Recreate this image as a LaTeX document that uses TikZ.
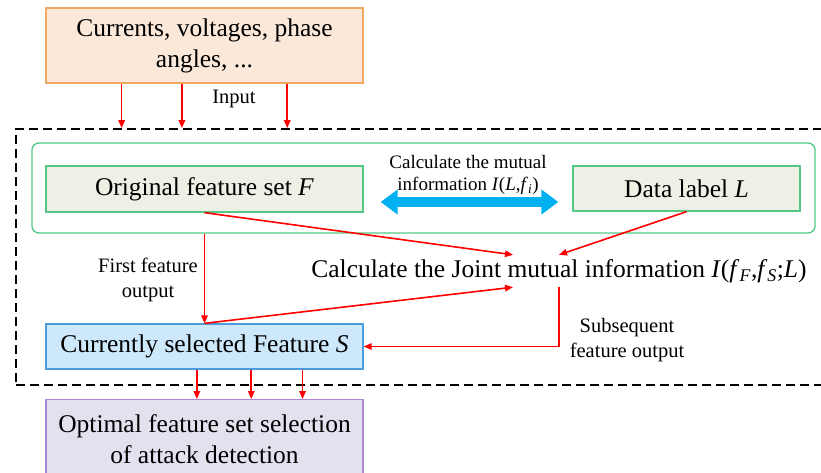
\documentclass[tikz,border=0pt]{standalone}
\usepackage{fontspec}
\setmainfont{Liberation Serif}
\usetikzlibrary{arrows.meta,calc}

\definecolor{srcfill}{HTML}{FBE8D9}
\definecolor{srcdraw}{HTML}{F0A862}
\definecolor{grndraw}{HTML}{55C785}
\definecolor{grnfill}{HTML}{ECF0E5}
\definecolor{selfill}{HTML}{CDE7FB}
\definecolor{seldraw}{HTML}{4C9BDD}
\definecolor{optfill}{HTML}{E5E0EE}
\definecolor{optdraw}{HTML}{AC88D2}
\definecolor{cyanarrow}{HTML}{00B0F0}

\newcommand{\bigtxt}{\fontsize{25.5}{31}\selectfont}
\newcommand{\smalltxt}{\fontsize{20.5}{24.5}\selectfont}
\newcommand{\minitxt}{\fontsize{19}{22}\selectfont}

\tikzset{
  box/.style={draw, line width=1.3pt, minimum width=317pt, inner sep=0pt,
    align=center, font=\bigtxt},
  redarrow/.style={draw=red, line width=1.6pt, -{Triangle[length=8pt,width=6.5pt]}},
  lbl/.style={inner sep=0pt, align=center, font=\smalltxt},
}

\begin{document}
\begin{tikzpicture}[x=1pt,y=1pt]
\useasboundingbox (0,0) rectangle (821,-472);

% dashed frame around the selection stage
\node[draw, line width=1.8pt, dash pattern=on 9pt off 5pt,
      minimum width=814pt, minimum height=256pt, inner sep=0pt]
      (frame) at (423,-257) {};

% input data
\node[box, fill=srcfill, draw=srcdraw, minimum height=75pt]
      (src) at (204.5,-45.5) {Currents, voltages, phase\\angles, ...};

% green container with feature set and label
\node[draw=grndraw, line width=1.3pt, rounded corners=7pt,
      minimum width=783pt, minimum height=90pt, inner sep=0pt]
      (grp) at (423.5,-188) {};
\node[box, fill=grnfill, draw=grndraw, minimum height=46pt]
      (orig) at (204.5,-189) {Original feature set \textit{F}};
\node[box, fill=grnfill, draw=grndraw, minimum width=227pt, minimum height=45pt]
      (data) at (686.5,-188.5) {Data label \textit{L}};

% mutual information double arrow
\draw[cyanarrow, line width=10pt,
      {Triangle[length=17pt,width=24pt]}-{Triangle[length=17pt,width=24pt]},
      shorten <=17pt, shorten >=14pt]
      ([yshift=-13pt]orig.east) -- ([yshift=-13pt]orig.east -| data.west);
\node[lbl, font=\minitxt] (mi) at (468,-175)
      {Calculate the mutual\\information \textit{I}(\textit{L},\textit{f}\textsubscript{\textit{i}})};

% joint mutual information
\node[inner sep=0pt, minimum height=32pt, font=\bigtxt] (joint) at (559,-271)
      {Calculate the Joint mutual information
       \textit{I}(\textit{f}\textsubscript{\textit{F}},\textit{f}\textsubscript{\textit{S}};\textit{L})};

% currently selected features
\node[box, fill=selfill, draw=seldraw, minimum height=45pt]
      (sel) at (204.5,-346.5) {Currently selected Feature \textit{S}};

% final result
\node[box, fill=optfill, draw=optdraw, minimum height=79pt, anchor=north]
      (opt) at (204.5,-399) {Optimal feature set selection\\of attack detection};

% input arrows
\foreach \f in {0.2397,0.429,0.760}{
  \draw[redarrow] ($(src.south west)!\f!(src.south east)$) coordinate (a)
        -- (a |- frame.north);
}
\node[lbl] (inp) at (234,-99) {Input};

% connections to the joint mutual information
\draw[redarrow] (orig.south) -- ([xshift=-46pt]joint.north);
\draw[redarrow] (data.south) -- (joint.north);
\draw[redarrow] (sel.north) -- ([xshift=-46pt]joint.south);

% first feature output
\draw[redarrow] (orig.south |- grp.south) -- (sel.north);
\node[lbl] (first) at (148,-280) {First feature\\output};

% subsequent feature output
\draw[redarrow] (joint.south) |- (sel.east);
\node[lbl] (subs) at (627,-340) {Subsequent\\feature output};

% output arrows
\foreach \f in {0.476,0.647,0.808}{
  \draw[redarrow] ($(sel.south west)!\f!(sel.south east)$) coordinate (b)
        -- (b |- opt.north);
}
\end{tikzpicture}
\end{document}
